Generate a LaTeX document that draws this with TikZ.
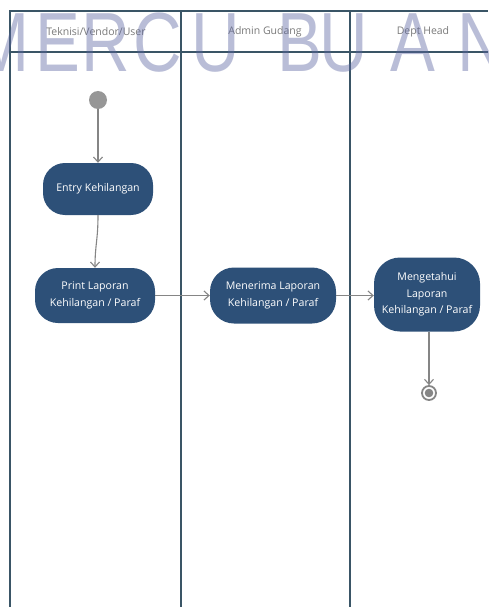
\documentclass[tikz,border=0pt]{standalone}
\usepackage{graphicx}
\usepackage{fontspec}
\setmainfont{Open Sans}
\newfontfamily\wmfont{Liberation Sans}
\usetikzlibrary{arrows.meta}
\definecolor{lane}{HTML}{3A5566}
\definecolor{actfill}{HTML}{2D5078}
\definecolor{flowgray}{HTML}{858585}
\definecolor{headgray}{HTML}{7A7A7A}
\definecolor{wmcol}{RGB}{90,100,160}
\tikzset{
  laneline/.style={draw=lane, line width=1.3pt},
  header/.style={text=headgray, font=\fontsize{10.5}{12}\selectfont, inner sep=0pt},
  action/.style={rectangle, fill=actfill, text=white, align=center,
    font=\fontsize{10.6}{16.5}\selectfont, inner sep=2pt},
  flow/.style={draw=flowgray, line width=1.1pt, -{Straight Barb[length=5pt,width=9pt,line width=1.1pt]}},
  initnode/.style={circle, fill=flowgray!85, minimum size=18pt, inner sep=0pt},
  finalnode/.style={circle, draw=flowgray, line width=1.8pt, minimum size=14pt, inner sep=0pt,
    path picture={\fill[flowgray] (path picture bounding box.center) circle (4.3pt);}},
  wm/.style={text=wmcol, text opacity=0.42, font=\wmfont\fontsize{84}{84}\selectfont,
    inner sep=0pt, anchor=base}
}
\begin{document}
\begin{tikzpicture}[x=1pt,y=-1pt]
\useasboundingbox (0,0) rectangle (488,607);
\fill[white] (0,0) rectangle (488,607);
% swimlane frame
\coordinate (tl) at (10,11);
\coordinate (tr) at (488,11);
\coordinate (hl) at (10,52);
\coordinate (hr) at (488,52);
\coordinate (bl) at (10,607);
\coordinate (v1t) at (181,11);
\coordinate (v1b) at (181,607);
\coordinate (v2t) at (350,11);
\coordinate (v2b) at (350,607);
\draw[laneline] (bl) -- (tl) -- (tr);
\draw[laneline] (hl) -- (hr);
\draw[laneline] (v1t) -- (v1b);
\draw[laneline] (v2t) -- (v2b);
% headers
\node[header] (h1) at (96,32) {Teknisi/Vendor/User};
\node[header] (h2) at (265,32) {Admin Gudang};
\node[header] (h3) at (423,32) {Dept Head};
% nodes
\node[initnode] (init) at (98,100) {};
\node[action, minimum width=110pt, minimum height=52pt, rounded corners=22pt] (entry) at (98,189) {Entry Kehilangan};
\node[action, minimum width=120pt, minimum height=55pt, rounded corners=23pt] (print) at (95,295.5) {Print Laporan\\Kehilangan / Paraf};
\node[action, minimum width=126pt, minimum height=56pt, rounded corners=24pt] (terima) at (273,295.5) {Menerima Laporan\\Kehilangan / Paraf};
\node[action, minimum width=106pt, minimum height=74pt, rounded corners=26pt] (tahu) at (427,294.5) {Mengetahui\\Laporan\\Kehilangan / Paraf};
\node[finalnode] (final) at (429,393) {};
% flows
\draw[flow] (init) -- (entry);
\draw[flow] (entry.south) .. controls (98,240) and (95,245) .. (print.north);
\draw[flow] (print.east) -- (terima.west);
\draw[flow] (terima.east) -- (terima.east -| tahu.west);
\draw[flow] (tahu.south -| final) -- (final);
% watermark
\foreach \c/\x [count=\i] in {M/1, E/58, R/106, C/158, U/216, B/300, U/344, A/413, N/482} {
  \node[wm] (wm\i) at (\x,72) {\scalebox{0.8}[1]{\c}};
}
\end{tikzpicture}
\end{document}
